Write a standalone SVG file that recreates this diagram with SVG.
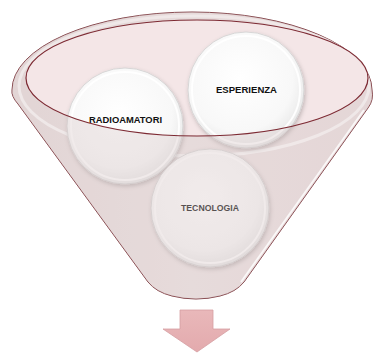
<svg xmlns="http://www.w3.org/2000/svg" width="374" height="355" viewBox="0 0 374 355">
<style>
.lbl{font-family:"Liberation Sans","Open Sans",Arial,sans-serif;font-weight:bold;font-size:9px;text-anchor:middle;fill:#111}
.disc{fill:url(#discG);stroke:#cfcfcf;stroke-width:0.8;filter:url(#sh)}
.ring{fill:none;stroke:#ffffff;stroke-width:2;opacity:0.9}
</style>
<defs>
<radialGradient id="discG" cx="0.45" cy="0.4" r="0.65">
<stop offset="0" stop-color="#ffffff"/>
<stop offset="0.7" stop-color="#f8f8f8"/>
<stop offset="1" stop-color="#e4e4e4"/>
</radialGradient>
<linearGradient id="bodyG" x1="0" y1="0" x2="1" y2="0">
<stop offset="0" stop-color="#e8dddd"/>
<stop offset="0.5" stop-color="#efe6e6"/>
<stop offset="1" stop-color="#ecdfe0"/>
</linearGradient>
<linearGradient id="arrowG" x1="0" y1="0" x2="0" y2="1">
<stop offset="0" stop-color="#e9b8ba"/>
<stop offset="1" stop-color="#e3aaad"/>
</linearGradient>
<filter id="sh" x="-20%" y="-20%" width="140%" height="140%">
<feDropShadow dx="1" dy="2" stdDeviation="2" flood-color="#000" flood-opacity="0.22"/>
</filter>
</defs>

<g id="funnel">
<path d="M12,90 A180,78 0 0 1 372,90 Q374,100 368,108 L244,282 Q236,292 220,296 Q196,302 172,296 Q156,292 148,282 L18,104 Q11,96 12,90 Z" fill="url(#bodyG)" stroke="#7e3c42" stroke-width="1"/>
<ellipse cx="194" cy="86" rx="175" ry="70" fill="none" stroke="#ffffff" stroke-width="3" opacity="0.85"/>
<ellipse cx="197" cy="78" rx="171" ry="58" fill="#f4e6e7"/>
</g>

<g id="node-radioamatori">
<circle class="disc" cx="125" cy="126" r="58"/>
<circle class="ring" cx="125" cy="126" r="54"/>
<text class="lbl" x="125.5" y="123" textLength="73" lengthAdjust="spacingAndGlyphs">RADIOAMATORI</text>
</g>
<g id="node-esperienza">
<circle class="disc" cx="246" cy="90" r="58"/>
<circle class="ring" cx="246" cy="90" r="54"/>
<text class="lbl" x="246.5" y="93" textLength="61" lengthAdjust="spacingAndGlyphs">ESPERIENZA</text>
</g>
<g id="node-tecnologia">
<circle class="disc" cx="210" cy="208" r="59"/>
<circle class="ring" cx="210" cy="208" r="55"/>
<text class="lbl" x="210" y="211" textLength="58" lengthAdjust="spacingAndGlyphs">TECNOLOGIA</text>
</g>

<g id="funnel-front">
<path fill-rule="evenodd" d="M12,90 A180,78 0 0 1 372,90 Q374,100 368,108 L244,282 Q236,292 220,296 Q196,302 172,296 Q156,292 148,282 L18,104 Q11,96 12,90 Z M26,78 A171,58 0 1 0 368,78 A171,58 0 1 0 26,78 Z" fill="#d6c6c7" fill-opacity="0.35"/>
<path d="M364,110 L241,282" fill="none" stroke="#ffffff" stroke-width="2" opacity="0.8"/>
<ellipse cx="197" cy="78" rx="171" ry="58" fill="none" stroke="#7d2a33" stroke-width="1.2"/>
</g>

<g id="connectors">
<path d="M180,310 L213,310 L213,329 L230,329 L197,352 L163,329 L180,329 Z" fill="url(#arrowG)" stroke="#d69ea2" stroke-width="0.8"/>
</g>
</svg>
